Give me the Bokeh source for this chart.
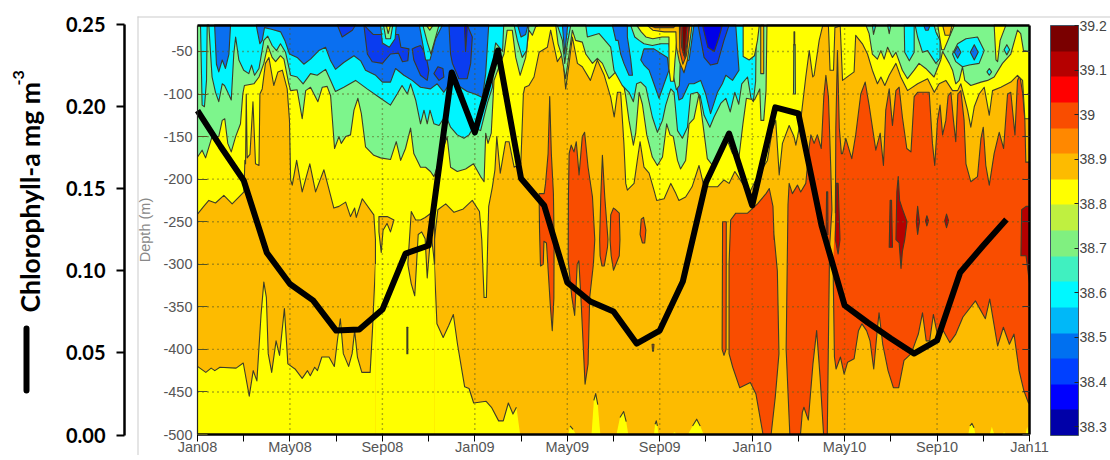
import math
from bokeh.embed import file_html
from bokeh.resources import INLINE
from bokeh.plotting import figure
from bokeh.models import (Range1d, LinearAxis, FixedTicker, ColorBar, LinearColorMapper,
                          Label, BoxAnnotation, PrintfTickFormatter)

# ---- chlorophyll (monthly from Jan08) ----
chl_month = list(range(36))
chl_value = [.1976,.1757,.155,.111,.092,.082,.0636,.0643,.0764,.1105,.1154,.2208,.1842,.2342,.1562,.1398,
             .0929,.0813,.0752,.0557,.0636,.0935,.1538,.1836,.1398,.1995,.1958,.1276,.0789,.0685,.0588,.0496,
             .0576,.099,.1154,.1312]
# ---- axes ----
depth_ticks = [-50,-100,-150,-200,-250,-300,-350,-400,-450,-500]
date_ticks = {0:"Jan08",4:"May08",8:"Sep08",12:"Jan09",16:"May09",20:"Sep09",24:"Jan10",28:"May10",32:"Sep10",36:"Jan11"}
chl_ticks = [0,.05,.10,.15,.20,.25]
bar_ticks = [38.3,38.4,38.5,38.6,38.7,38.8,38.9,39.0,39.1,39.2]
bar_palette = ["#0000a8","#0000ff","#0040ff","#0070f0","#00b8f8","#00f8ff","#40f0c0","#80f080",
               "#bff040","#ffff00","#fdbb00","#ff8800","#f94d00","#ff0000","#b50000","#7a0000"]
# ---- salinity isolines: (month, depth) ----
yellow_top = [(0,-241),(.27,-232),(.49,-225),(.78,-228),(1.14,-219),(1.5,-229),(2.01,-215),(2.05,-178),(2.08,-182),(2.11,-100),(2.15,-175),(2.27,-171),(2.4,-109),(2.51,-182),(2.66,-184),(2.7,-100),(2.8,-94),(2.94,-64),(3.09,-57),(3.3,-90),(3.48,-74),(3.67,-72),(3.88,-94),(3.98,-131),(4.03,-201),(4.1,-207),(4.29,-178),(4.53,-215),(4.86,-182),(5.11,-215),(5.47,-189),(5.9,-234),(6.12,-232),(6.41,-227),(6.62,-244),(6.8,-234),(6.87,-245),(7.13,-223),(7.63,-242),(7.7,-271),(7.7,-300),(7.7,-500),(10.25,-500),(10.25,-300),(10.25,-271),(10.4,-236),(10.74,-229),(11.1,-239),(11.5,-235),(11.89,-225),(12.2,-238),(12.3,-271),(12.4,-339),(12.5,-339),(12.56,-271),(12.6,-232),(12.76,-209),(12.87,-189),(12.95,-150),(13.1,-193),(13.33,-156),(13.48,-156),(13.7,-186),(13.99,-182),(14.1,-100),(14.16,-92),(14.34,-90),(14.56,-80),(14.78,-51),(15.14,-45),(15.28,-25),(15.5,-53),(15.57,-62),(15.79,-53),(15.93,-94),(16.08,-64),(16.22,-33),(16.44,-64),(16.65,-68),(17.0,-84),(17.3,-60),(17.6,-78),(17.88,-104),(18.03,-127),(18.17,-98),(18.31,-98),(18.45,-158),(18.53,-205),(18.6,-213),(18.89,-205),(19.03,-178),(19.15,-156),(19.32,-186),(19.54,-193),(19.75,-213),(19.87,-225),(20.19,-223),(20.48,-205),(20.7,-217),(20.83,-225),(21.12,-221),(21.4,-209),(21.7,-184),(21.92,-209),(22.2,-209),(22.5,-209),(22.78,-201),(23.0,-205),(23.25,-191),(23.58,-205),(23.87,-217),(24.23,-197),(24.66,-178),(24.88,-141),(25.02,-131),(25.17,-195),(25.31,-158),(25.6,-137),(25.81,-150),(25.89,-160),(26.1,-131),(26.32,-80),(26.47,-49),(26.62,-80),(26.68,-78),(26.9,-37),(27.05,-20),(27.3,-20),(27.37,-72),(27.52,-72),(27.58,-22),(27.81,-20),(27.91,-84),(28.41,-74),(28.48,-31),(28.77,-41),(28.99,-53),(29.2,-72),(29.42,-88),(29.57,-80),(29.74,-90),(29.93,-78),(30.22,-64),(30.43,-80),(30.72,-96),(31.16,-88),(31.59,-82),(31.88,-98),(32.09,-88),(32.38,-84),(32.67,-96),(32.89,-96),(33.03,-88),(33.32,-119),(33.46,-139),(33.61,-115),(33.82,-100),(34.04,-92),(34.26,-125),(34.4,-96),(34.76,-92),(35.19,-86),(35.48,-78),(35.7,-84),(35.8,-129),(36,-129)]
yellow_bottom_a = [(0,-420),(.36,-427),(.59,-422),(.75,-425),(.97,-421),(1.67,-422),(1.98,-416),(2.24,-455),(2.41,-425),(2.57,-437),(2.75,-359),(2.87,-321),(2.98,-339),(3.06,-405),(3.21,-427),(3.4,-390),(3.55,-407),(3.76,-352),(3.91,-417),(4.22,-423),(4.53,-434),(4.76,-425),(4.88,-431),(5.07,-421),(5.19,-425),(5.38,-409),(5.69,-409),(5.92,-420),(6.07,-386),(6.18,-364),(6.31,-405),(6.54,-420),(6.69,-405),(6.8,-378),(6.92,-409),(7.11,-427),(7.47,-427),(7.57,-378),(7.7,-300)]
yellow_bottom_b = [(10.25,-300),(10.36,-370),(10.63,-386),(10.87,-372),(11.07,-359),(11.25,-394),(11.56,-444),(11.75,-446),(11.95,-463),(12.49,-461),(12.72,-468),(13.03,-484),(13.23,-484),(13.45,-463),(13.65,-476),(13.8,-468),(13.96,-500)]
yellow_blobs = [
 [(16.04,-500),(16.12,-490),(16.25,-494),(16.38,-500)],
 [(17.05,-500),(17.15,-460),(17.23,-452),(17.32,-465),(17.43,-500)],
 [(18.13,-500),(18.28,-480),(18.44,-473),(18.55,-485),(18.64,-500)],
 [(19.75,-500),(19.8,-488),(19.85,-484),(19.9,-490),(19.95,-500)],
 [(20.52,-500),(20.64,-497),(20.76,-500)],
 [(21.22,-500),(21.42,-490),(21.6,-482),(21.75,-490),(21.9,-500)],
 [(33.35,-500),(33.42,-490),(33.51,-487),(33.6,-492),(33.66,-500)],
 [(34.28,-500),(34.37,-491),(34.48,-500)],
 [(34.82,-500),(34.9,-497),(34.98,-500)],
 [(35.83,-500),(35.9,-491),(35.98,-500)],
]
amber_islands = [
 [(7.85,-244),(8.21,-244),(8.5,-248),(8.35,-262),(8.2,-252),(8.03,-260),(7.95,-286),(7.85,-262)],
 [(9.06,-374),(9.1,-374),(9.1,-405),(9.06,-405)],
 [(9.1,-300),(9.25,-238),(9.44,-248),(9.65,-248),(9.85,-245),(10.1,-240),(10.26,-236),(10.26,-300),(10.1,-262),(9.94,-316),(9.85,-270),(9.7,-262),(9.55,-265),(9.4,-337),(9.25,-323)],
 [(24.37,-19),(24.5,-19),(24.5,-76),(24.37,-76)],
 [(32.24,-19),(32.35,-31),(32.55,-31),(32.65,-19)],
]
red_columns = [
 [(14.78,-217),(15.0,-217),(15.06,-205),(15.17,-170),(15.24,-103),(15.31,-170),(15.4,-217),(15.43,-271),(15.42,-340),(15.35,-378),(15.27,-350),(15.1,-275),(14.99,-273),(14.96,-300),(14.84,-302),(14.8,-260)],
 [(16.08,-170),(16.17,-160),(16.29,-168),(16.39,-156),(16.51,-195),(16.65,-150),(16.75,-145),(16.9,-186),(17.09,-221),(17.19,-271),(17.13,-300),(16.97,-339),(16.9,-417),(16.77,-441),(16.59,-339),(16.5,-296),(16.43,-300),(16.32,-360),(16.2,-339),(16.04,-296),(16.05,-221)],
 [(17.4,-271),(17.45,-220),(17.52,-172),(17.62,-220),(17.76,-271),(17.74,-280),(17.6,-302),(17.5,-302),(17.42,-290)],
 [(17.85,-271),(17.88,-242),(18.0,-234),(18.1,-236),(18.25,-240),(18.28,-271),(18.25,-290),(18.0,-307),(17.9,-290)],
 [(19.15,-265),(19.2,-247),(19.3,-245),(19.4,-260),(19.35,-275),(19.25,-275)],
 [(19.67,-394),(19.75,-394),(19.73,-402),(19.69,-402)],
 [(22.72,-250),(22.88,-250),(22.87,-400),(22.78,-407),(22.7,-400)],
 [(23.07,-248),(23.29,-240),(23.8,-240),(24.23,-229),(24.6,-217),(24.74,-211),(24.9,-232),(24.95,-271),(24.93,-261),(25.09,-308),(25.16,-405),(25.0,-456),(24.82,-500),(24.47,-500),(24.16,-452),(23.92,-439),(23.46,-445),(23.16,-421),(23.0,-405),(23.0,-300)],
 [(25.55,-230),(25.6,-205),(25.74,-217),(25.96,-207),(26.1,-215),(26.32,-205),(26.47,-162),(26.54,-148),(26.68,-158),(26.82,-148),(26.99,-164),(27.1,-103),(27.19,-78),(27.3,-103),(27.4,-186),(27.45,-236),(27.35,-280),(27.25,-500),(27.09,-500),(26.94,-433),(26.79,-378),(26.63,-417),(26.43,-483),(26.24,-468),(26.17,-474),(26.09,-500),(25.63,-500),(25.47,-400)],
 [(27.6,-240),(27.62,-140),(27.69,-49),(27.77,-140),(27.86,-170),(27.91,-170),(28.05,-152),(28.2,-166),(28.31,-176),(28.48,-148),(28.7,-100),(28.89,-86),(29.06,-113),(29.35,-166),(29.54,-146),(29.68,-184),(29.78,-119),(29.93,-94),(30.07,-137),(30.22,-96),(30.36,-92),(30.5,-127),(30.69,-164),(30.87,-168),(31.01,-103),(31.16,-98),(31.66,-98),(31.8,-158),(31.9,-184),(32.02,-131),(32.13,-113),(32.24,-148),(32.38,-131),(32.48,-102),(32.6,-98),(32.71,-131),(32.81,-156),(32.9,-100),(33.03,-96),(33.17,-131),(33.25,-182),(33.46,-203),(33.75,-197),(33.9,-152),(34.0,-139),(34.11,-184),(34.26,-207),(34.47,-170),(34.69,-145),(34.88,-164),(35.05,-100),(35.19,-98),(35.37,-148),(35.48,-84),(35.58,-78),(35.7,-98),(35.8,-131),(35.84,-180),(36,-180),(36,-464),(35.94,-462),(35.75,-448),(35.55,-425),(35.33,-382),(35.13,-394),(34.87,-374),(34.62,-396),(34.28,-341),(34.09,-364),(33.66,-343),(33.12,-362),(32.81,-382),(32.55,-392),(32.27,-378),(32.04,-386),(31.84,-359),(31.68,-390),(31.53,-390),(31.37,-357),(31.19,-382),(30.88,-405),(30.57,-413),(30.34,-445),(30.11,-445),(29.88,-425),(29.65,-394),(29.49,-357),(29.41,-378),(29.26,-423),(29.1,-390),(28.95,-378),(28.75,-370),(28.6,-378),(28.41,-411),(28.13,-415),(27.98,-429),(27.82,-409),(27.63,-423),(27.56,-409),(27.5,-300)],
]
darkred_blobs = [
 [(27.6,-271),(27.64,-205),(27.72,-205),(27.8,-271),(27.72,-288)],
 [(27.2,-265),(27.22,-215),(27.27,-215),(27.28,-265)],
 [(29.93,-280),(29.97,-225),(30.03,-225),(30.07,-280)],
 [(30.22,-271),(30.26,-215),(30.32,-197),(30.38,-225),(30.5,-235),(30.7,-250),(30.6,-271),(30.5,-285),(30.44,-305),(30.36,-275)],
 [(31.1,-250),(31.16,-232),(31.24,-250),(31.16,-265)],
 [(31.5,-249),(31.56,-243),(31.63,-249),(31.56,-255)],
 [(32.33,-249),(32.41,-241),(32.5,-249),(32.41,-257)],
 [(35.63,-290),(35.66,-236),(35.85,-232),(36,-232),(36,-322),(35.85,-290)],
]
green_top = [(0,-174),(.2,-166),(.35,-175),(.63,-150),(.92,-150),(1.07,-131),(1.18,-129),(1.31,-158),(1.46,-168),(1.65,-150),(1.86,-135),(1.96,-100),(2.03,-90),(2.44,-88),(2.66,-80),(2.87,-64),(3.04,-43),(3.23,-57),(3.38,-62),(3.59,-55),(3.74,-59),(3.95,-88),(4.03,-96),(4.31,-95),(4.53,-129),(4.68,-96),(4.89,-92),(5.21,-109),(5.4,-92),(5.61,-91),(5.76,-102),(5.93,-164),(6.12,-150),(6.22,-158),(6.41,-150),(6.62,-148),(6.77,-119),(6.94,-105),(7.09,-123),(7.27,-162),(7.63,-172),(7.92,-175),(8.35,-177),(8.6,-156),(8.79,-178),(9.0,-164),(9.22,-140),(9.36,-170),(9.65,-186),(9.87,-186),(10.08,-191),(10.23,-197),(10.5,-175),(10.8,-150),(10.95,-186),(11.24,-191),(11.6,-188),(11.94,-182),(12.25,-197),(12.4,-203),(12.47,-146),(12.57,-158),(12.71,-146),(12.83,-84),(13.1,-64),(13.26,-53),(13.4,-25),(13.62,-25),(13.77,-57),(13.96,-78),(14.2,-57),(14.34,-25),(14.49,-31),(14.63,-21),(14.8,-19),(15.5,-19),(15.6,-41),(15.74,-53),(15.93,-82),(16.08,-53),(16.22,-25),(16.36,-37),(16.65,-39),(16.8,-53),(17.09,-64),(17.3,-58),(17.52,-64),(17.81,-82),(17.95,-78),(18.1,-74),(18.31,-68),(18.53,-103),(18.67,-131),(18.86,-160),(18.96,-146),(19.11,-98),(19.25,-112),(19.44,-148),(19.68,-174),(19.9,-184),(20.12,-174),(20.3,-135),(20.45,-148),(20.59,-150),(20.77,-178),(20.9,-188),(21.12,-178),(21.27,-135),(21.48,-129),(21.7,-100),(21.92,-146),(22.06,-176),(22.35,-186),(22.57,-170),(22.86,-150),(23.15,-170),(23.43,-174),(23.6,-135),(23.75,-105),(24.1,-107),(24.33,-94),(24.38,-131),(24.5,-131),(24.6,-96),(24.64,-19),(28.92,-19),(29.06,-29),(29.2,-53),(29.42,-59),(29.57,-49),(29.71,-59),(29.86,-45),(30.07,-57),(30.22,-51),(30.5,-72),(30.72,-82),(31.01,-72),(31.22,-64),(31.51,-70),(31.87,-80),(32.16,-60),(32.24,-50),(32.53,-64),(32.67,-72),(32.81,-88),(32.96,-84),(33.1,-68),(33.2,-84),(33.46,-90),(33.9,-86),(34.19,-84),(34.47,-80),(34.83,-64),(35.19,-53),(35.48,-25),(35.62,-29),(35.74,-49),(36,-50)]
cyan_top = [(.13,-19),(.2,-113),(.3,-115),(.39,-84),(.42,-19),(.49,-19),(.53,-37),(.63,-80),(.78,-98),(.92,-109),(1.07,-88),(1.17,-90),(1.31,-98),(1.46,-107),(1.57,-53),(1.65,-33),(1.79,-60),(2.0,-72),(2.22,-76),(2.34,-66),(2.47,-78),(2.66,-70),(2.87,-37),(3.04,-32),(3.23,-43),(3.42,-49),(3.59,-41),(3.81,-51),(4.03,-78),(4.31,-80),(4.57,-88),(4.89,-76),(5.18,-78),(5.54,-71),(5.76,-84),(5.97,-97),(6.33,-92),(6.84,-84),(7.34,-94),(7.92,-105),(8.35,-113),(8.64,-100),(8.85,-90),(9.08,-100),(9.22,-88),(9.44,-107),(9.65,-135),(9.8,-119),(9.94,-135),(10.06,-119),(10.23,-135),(10.45,-137),(10.74,-125),(10.95,-139),(11.24,-148),(11.53,-152),(11.75,-148),(11.94,-139),(12.25,-143),(12.54,-111),(12.76,-92),(12.83,-53),(12.9,-40),(13.05,-45),(13.2,-50),(13.25,-19),(13.7,-19),(13.84,-37),(14.05,-57),(14.24,-49),(14.34,-19),(15.57,-19),(15.79,-37),(15.89,-64),(16.0,-41),(16.15,-19),(16.8,-19),(16.87,-33),(17.38,-29),(17.88,-45),(18.02,-72),(18.38,-90),(18.67,-98),(18.86,-109),(19.0,-88),(19.18,-86),(19.4,-92),(19.68,-127),(19.9,-145),(20.12,-131),(20.26,-113),(20.48,-94),(20.62,-98),(20.77,-143),(20.98,-152),(21.2,-139),(21.34,-100),(21.63,-98),(21.75,-102),(21.92,-125),(22.17,-139),(22.35,-127),(22.64,-111),(22.86,-105),(23.05,-121),(23.25,-98),(23.42,-112),(23.55,-88),(23.8,-80),(23.95,-105),(24.05,-109),(24.15,-85),(24.18,-19)]
cyan_islands = [
 [(30.58,-19),(30.6,-51),(30.8,-61),(31.01,-51),(31.01,-19)],
 [(31.05,-19),(31.16,-33),(31.37,-51),(31.59,-49),(31.95,-64),(32.13,-58),(32.13,-37),(31.95,-27),(31.87,-19)],
 [(32.67,-53),(32.89,-41),(33.25,-35),(33.75,-33),(34.04,-49),(33.82,-64),(33.39,-66),(33.1,-68),(32.81,-62)],
 [(34.16,-74),(34.26,-70),(34.36,-74),(34.26,-78)],
 [(34.9,-48),(35.02,-42),(35.14,-48),(35.02,-54)],
 [(29.2,-19),(29.25,-30),(29.35,-19)],
 [(29.86,-19),(29.93,-29),(30.0,-19)],
 [(7.25,-19),(7.3,-37),(7.42,-37),(7.45,-19)],
]
blue_regions = [
 [(.74,-19),(.82,-65),(.92,-74),(1.07,-60),(1.21,-70),(1.36,-53),(1.43,-19)],
 [(2.54,-19),(2.7,-41),(2.8,-37),(2.9,-22),(3.2,-24),(3.6,-27),(3.78,-37),(3.98,-53),(4.31,-57),(4.6,-65),(4.89,-59),(5.25,-49),(5.54,-45),(5.76,-61),(5.97,-71),(6.33,-63),(6.77,-55),(7.06,-61),(7.27,-72),(7.71,-78),(8.0,-86),(8.35,-86),(8.57,-70),(8.93,-78),(9.29,-84),(9.65,-92),(10.08,-94),(10.37,-88),(10.66,-98),(10.95,-86),(11.39,-92),(11.67,-97),(12.0,-100),(12.33,-104),(12.47,-76),(12.6,-19)],
 [(13.85,-19),(14.0,-33),(14.2,-30),(14.3,-19)],
 [(15.79,-19),(15.89,-53),(16.02,-19)],
 [(17.95,-19),(18.1,-37),(18.2,-37),(18.31,-53),(18.45,-64),(18.67,-78),(18.82,-78),(18.74,-58),(18.6,-33),(18.6,-19)],
 [(19.18,-60),(19.32,-47),(19.75,-47),(20.33,-57),(20.4,-72),(20.19,-88),(19.97,-105),(19.75,-88),(19.54,-72),(19.32,-66)],
 [(20.72,-88),(20.77,-72),(20.98,-64),(21.27,-60),(21.48,-19),(23.29,-19),(23.43,-72),(23.15,-84),(22.86,-78),(22.71,-88),(22.5,-98),(22.2,-123),(21.99,-100),(21.77,-84),(21.48,-88),(21.27,-88),(20.98,-105),(20.83,-107)],
 [(31.42,-19),(31.5,-25),(31.62,-25),(31.7,-19)],
 [(32.75,-51),(32.89,-44),(33.03,-51),(32.89,-58)],
 [(33.44,-51),(33.61,-42),(33.78,-51),(33.61,-60)],
]
darkblue_regions = [
 [(6.05,-19),(6.26,-33),(6.7,-25),(6.84,-19)],
 [(7.2,-19),(7.35,-53),(7.56,-62),(8.0,-64),(8.35,-53),(8.7,-52),(8.87,-62),(9.1,-61),(9.15,-47),(8.8,-45),(8.7,-30),(7.6,-30)],
 [(9.29,-47),(9.44,-45),(9.65,-43),(9.87,-53),(10.01,-72),(9.94,-84),(9.65,-78),(9.36,-60)],
 [(10.23,-76),(10.4,-68),(10.62,-70),(10.66,-80),(10.45,-84)],
 [(10.88,-19),(10.95,-53),(11.03,-64),(11.31,-82),(11.67,-82),(11.82,-64),(11.89,-33),(11.67,-19)],
 [(21.66,-19),(21.92,-57),(22.2,-66),(22.5,-64),(22.78,-37),(23.0,-19)],
]
navy_regions = [
 [(21.85,-19),(22.08,-45),(22.36,-50),(22.57,-33),(22.71,-19)],
 [(11.55,-19),(11.6,-50),(11.68,-19)],
]
warm_green = [(18.74,-19),(18.92,-33),(19.11,-37),(19.32,-41),(19.68,-43),(20.04,-41),(20.4,-41),(20.6,-80),(20.72,-95),(20.85,-90),(20.95,-19)]
warm_yellow = [(19.0,-19),(19.2,-27),(19.4,-33),(19.7,-35),(20.1,-33),(20.4,-33),(20.4,-70),(20.47,-85),(20.6,-85),(20.66,-60),(20.75,-33),(20.85,-19)]
warm_amber = [(19.45,-19),(19.7,-25),(20.2,-27),(20.7,-27),(20.72,-45),(20.85,-62),(21.05,-75),(21.2,-60),(21.4,-19)]
warm_orange = [(20.85,-19),(20.87,-50),(21.0,-65),(21.15,-55),(21.3,-19)]
warm_red = [(20.9,-19),(20.95,-45),(21.05,-55),(21.2,-40),(21.27,-19)]
warm_maroon = [(20.97,-19),(21.0,-50),(21.1,-58),(21.15,-30),(21.2,-19)]
warm_strip = [(19.5,-19),(19.8,-22),(20.6,-22),(20.7,-19)]
top_cyan_patch = [(9.6,-19),(9.87,-60),(10.06,-60),(10.3,-35),(10.6,-19)]
top_green_patch = [(9.75,-19),(9.95,-40),(10.1,-53),(10.45,-19)]
top_yellow_patch = [(9.9,-19),(10.05,-25),(10.2,-19)]
spot_cyan = [(7.92,-19),(8.0,-40),(8.3,-45),(8.55,-35),(8.6,-19)]
spot_green = [(8.05,-19),(8.15,-35),(8.35,-35),(8.45,-19)]
spot_yellow = [(8.17,-19),(8.25,-29),(8.35,-19)]
yellow_overlays = [
 [(23.61,-19),(23.61,-56),(23.87,-60),(24.1,-55),(24.23,-37),(24.31,-19)],
 [(34.47,-19),(34.55,-60),(34.62,-62),(34.73,-37),(34.98,-19)],
 [(32.03,-19),(32.2,-48),(32.3,-48),(32.75,-19)],
]
green_spindle = [(25.8,-42),(25.86,-42),(25.87,-100),(25.79,-100)]
dark_tick = [(25.81,-27),(25.84,-27),(25.84,-42),(25.81,-42)]

AMBER, YELLOW, ORANGE, DARKRED = "#fdbb00", "#ffff00", "#f94d00", "#b50000"
GREEN, CYAN, BLUE, DARKBLUE, NAVY = "#7df58c", "#00f5ff", "#0a6ff0", "#0a3cf0", "#0000e8"
EDGE = "#3c3c28"
DEPTH_TOP, DEPTH_BOTTOM = -19.5, -500

# one frame covers the whole canvas; the data region sits at these canvas pixels
W, H = 1110, 455
L, R, T, B = 197, 1029, 25, 434
px_month = (R - L) / 36
px_depth = (B - T) / (DEPTH_TOP - DEPTH_BOTTOM)
px_chl = (434.5 - 24) / 0.25
x_range = Range1d(-L / px_month, (W - L) / px_month)
y_range = Range1d(DEPTH_BOTTOM - (H - B) / px_depth, DEPTH_TOP + T / px_depth)
chl_range = Range1d(-(H - 434.5) / px_chl, 0.25 + 24 / px_chl)

p = figure(output_backend="svg", toolbar_location=None, width=W, height=H, x_range=x_range, y_range=y_range,
           x_axis_type=None, y_axis_type=None, min_border=0, background_fill_color="white",
           outline_line_color=None)
p.extra_y_ranges = {"chl": chl_range}


def fill(points, color, top=False):
    m, d = [list(v) for v in zip(*points)]
    pm, pd = m, d
    if top:
        pm = [m[0]] + m + [m[-1]]
        pd = [DEPTH_TOP] + d + [DEPTH_TOP]
    p.patch(pm, pd, fill_color=color, line_color=None, level="image")
    if top or len(points) > 40 or points[-1][1] == -500:
        lm = [a if b != -500 else math.nan for a, b in zip(m, d)]
        ld = [b if b != -500 else math.nan for b in d]
        p.line(lm, ld, line_color=EDGE, line_width=1.1, line_join="round", level="image")
    else:
        p.patch(pm, pd, fill_color=None, line_color=EDGE, line_width=1.1, line_join="round", level="image")


def fill_many(groups, color):
    for g in groups:
        fill(g, color)


p.patch([0, 36, 36, 0], [DEPTH_BOTTOM, DEPTH_BOTTOM, DEPTH_TOP, DEPTH_TOP], fill_color=AMBER,
        line_color=None, level="image")
fill(yellow_bottom_a + [(7.7, -500), (0, -500)], YELLOW)
fill(yellow_bottom_b + [(10.25, -500)], YELLOW)
fill_many(yellow_blobs, YELLOW)
fill_many(red_columns, ORANGE)
fill_many(darkred_blobs, DARKRED)
fill(yellow_top, YELLOW, top=True)
fill_many(amber_islands[:3], AMBER)
fill(green_top, GREEN, top=True)
fill(cyan_top, CYAN, top=True)
fill_many(cyan_islands, CYAN)
fill_many(blue_regions, BLUE)
fill_many(darkblue_regions, DARKBLUE)
fill_many(navy_regions, NAVY)
for pts, col in [(spot_cyan, CYAN), (spot_green, GREEN), (spot_yellow, YELLOW),
                 (top_cyan_patch, CYAN), (top_green_patch, GREEN), (top_yellow_patch, YELLOW),
                 (warm_green, GREEN), (warm_yellow, YELLOW), (warm_amber, AMBER), (warm_strip, ORANGE),
                 (warm_orange, ORANGE), (warm_red, "#ff0000"), (warm_maroon, "#7a0000")]:
    fill(pts, col)
fill_many(yellow_overlays, YELLOW)
fill_many(amber_islands[3:], AMBER)
fill(green_spindle, GREEN)
fill(dark_tick, "#444400")

# dotted grid, only over the data region
grid_x = [m for m in date_ticks if 0 < m < 36]
grid_y = [d for d in depth_ticks if d > DEPTH_BOTTOM]
p.segment(grid_x, [DEPTH_BOTTOM] * len(grid_x), grid_x, [DEPTH_TOP] * len(grid_x), line_color="#5a5a20",
          line_dash="1 4", line_width=1.4, level="image")
p.segment([0] * len(grid_y), grid_y, [36] * len(grid_y), grid_y, line_color="#5a5a20",
          line_dash="1 4", line_width=1.4, level="image")

p.line(chl_month, chl_value, y_range_name="chl", line_color="black", line_width=6, line_join="round")

FONT_GRAY = "#555555"
depth_axis = LinearAxis(ticker=FixedTicker(ticks=depth_ticks), axis_label="Depth (m)", fixed_location=0,
                        bounds=(DEPTH_BOTTOM, DEPTH_TOP), major_label_overrides={d: str(d) for d in depth_ticks})
depth_axis.major_tick_in, depth_axis.major_tick_out = 10, 0
depth_axis.major_tick_line_color = "#555522"
depth_axis.minor_tick_line_color = None
depth_axis.axis_line_color = None
depth_axis.major_label_text_font = "Liberation Sans"
depth_axis.major_label_text_font_size = "14.5px"
depth_axis.major_label_text_color = FONT_GRAY
depth_axis.major_label_standoff = 5
depth_axis.axis_label_text_font = "Liberation Sans"
depth_axis.axis_label_text_font_style = "normal"
depth_axis.axis_label_text_font_size = "14.5px"
depth_axis.axis_label_text_color = "#888888"
depth_axis.axis_label_standoff = 7
p.add_layout(depth_axis, "left")

chl_axis = LinearAxis(y_range_name="chl", ticker=FixedTicker(ticks=chl_ticks), bounds=(0, 0.25),
                      fixed_location=(124 - L) / px_month, formatter=PrintfTickFormatter(format="%.2f"))
chl_axis.axis_line_color = "black"
chl_axis.axis_line_width = 2.5
chl_axis.major_tick_line_color = "black"
chl_axis.major_tick_line_width = 2
chl_axis.major_tick_in, chl_axis.major_tick_out = 0, 8
chl_axis.minor_tick_line_color = None
chl_axis.major_label_standoff = 11
chl_axis.major_label_text_font = "Lato"
chl_axis.major_label_text_font_style = "bold"
chl_axis.major_label_text_font_size = "20px"
chl_axis.major_label_text_color = "black"
p.add_layout(chl_axis, "left")

x_axis = LinearAxis(ticker=FixedTicker(ticks=list(date_ticks), minor_ticks=[m + 2 for m in range(0, 36, 4)]),
                    major_label_overrides=date_ticks, fixed_location=DEPTH_BOTTOM, bounds=(0, 36))
x_axis.axis_line_color = "black"
x_axis.axis_line_width = 2.5
x_axis.major_tick_line_color = x_axis.minor_tick_line_color = "black"
x_axis.major_tick_in = x_axis.minor_tick_in = 0
x_axis.major_tick_out = x_axis.minor_tick_out = 7
x_axis.major_label_standoff = -3
x_axis.major_label_text_font = "Liberation Sans"
x_axis.major_label_text_font_size = "14.5px"
x_axis.major_label_text_color = FONT_GRAY
p.add_layout(x_axis, "below")

right_axis = LinearAxis(ticker=FixedTicker(ticks=depth_ticks), fixed_location=36, bounds=(DEPTH_BOTTOM, DEPTH_TOP),
                        major_label_overrides={d: "" for d in depth_ticks})
right_axis.major_tick_in, right_axis.major_tick_out = 7, 0
right_axis.major_tick_line_color = "#333333"
right_axis.minor_tick_line_color = None
right_axis.axis_line_color = "black"
right_axis.axis_line_width = 2.5
p.add_layout(right_axis, "right")

top_axis = LinearAxis(ticker=FixedTicker(ticks=[]), fixed_location=DEPTH_TOP, bounds=(0, 36))
top_axis.axis_line_color = "black"
top_axis.axis_line_width = 2.5
top_axis.major_tick_line_color = None
top_axis.minor_tick_line_color = None
p.add_layout(top_axis, "above")

left_edge = LinearAxis(ticker=FixedTicker(ticks=[]), fixed_location=0, bounds=(DEPTH_BOTTOM, DEPTH_TOP))
left_edge.axis_line_color = "#222222"
left_edge.axis_line_width = 1.2
left_edge.major_tick_line_color = None
left_edge.minor_tick_line_color = None
p.add_layout(left_edge, "left")

mapper = LinearColorMapper(palette=bar_palette, low=38.28, high=39.2)
cb = ColorBar(color_mapper=mapper, ticker=FixedTicker(ticks=bar_ticks), width=28, height=410,
              major_label_overrides={39.0: "39"}, location=(1050, 20), padding=0, margin=0,
              bar_line_color="#445566", major_tick_line_color="#222222", major_tick_in=4, minor_tick_line_color=None,
              major_label_text_font="Liberation Sans", major_label_text_font_size="14px",
              major_label_text_color="#444444", label_standoff=1, title=None,
              background_fill_color=None, border_line_color=None)
p.add_layout(cb, "center")

# page furniture, placed on the canvas
p.add_layout(BoxAnnotation(left=137, right=W, top=16, bottom=17, top_units="canvas", bottom_units="canvas",
                           left_units="canvas", right_units="canvas", fill_color="#cccccc", fill_alpha=1, line_color=None, level="underlay"))
p.add_layout(BoxAnnotation(left=137, right=138, top=16, bottom=H, top_units="canvas", bottom_units="canvas",
                           left_units="canvas", right_units="canvas", fill_color="#cccccc", fill_alpha=1, line_color=None, level="underlay"))
p.add_layout(BoxAnnotation(left=23, right=29, top=325, bottom=393, top_units="canvas", bottom_units="canvas",
                           left_units="canvas", right_units="canvas", fill_color="black", fill_alpha=1, line_color=None,
                           border_radius=3))
p.add_layout(Label(x=29, y=312, x_units="canvas", y_units="canvas", text="Chlorophyll-a mg m", angle=90, angle_units="deg",
                   text_font="Lato", text_font_style="bold", text_font_size="26.5px", text_color="black",
                   text_baseline="middle", text_align="left"))
p.add_layout(Label(x=18, y=85, x_units="canvas", y_units="canvas", text="-3", angle=90, angle_units="deg",
                   text_font="Lato", text_font_style="bold", text_font_size="16px", text_color="black",
                   text_baseline="middle", text_align="left"))

open("out.html", "w").write(file_html(p, INLINE))
